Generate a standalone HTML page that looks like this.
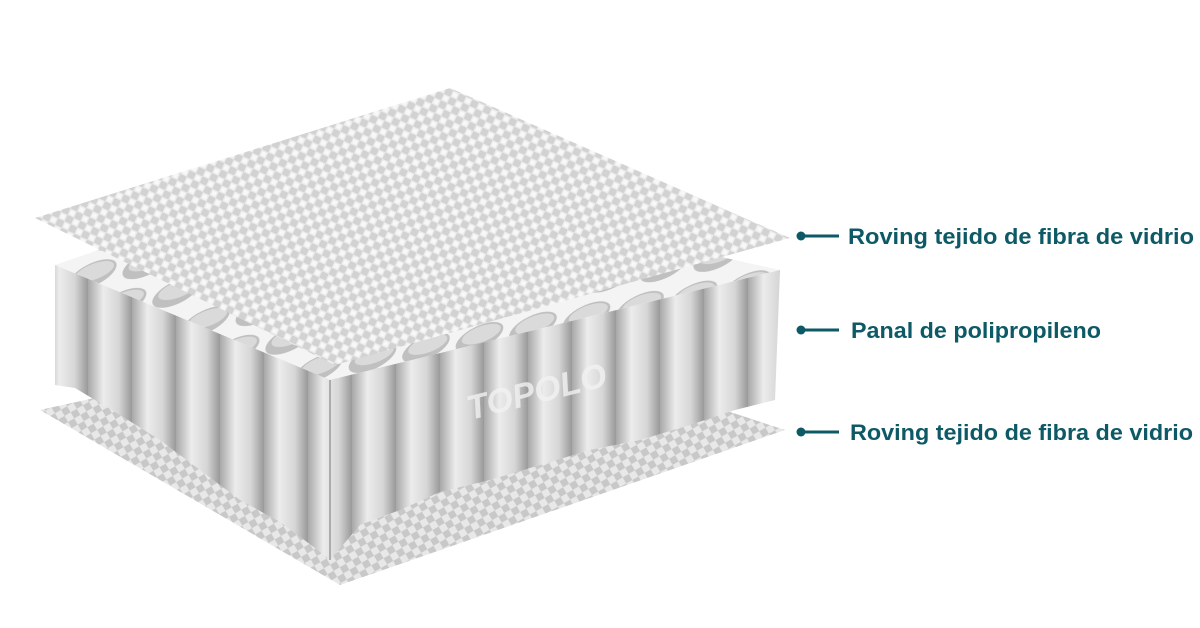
<!DOCTYPE html>
<html><head><meta charset="utf-8"><style>
html,body{margin:0;padding:0;background:#fff;}
svg{display:block;}
text{font-family:"Liberation Sans",Arial,sans-serif;}
</style></head><body>
<svg width="1200" height="628" viewBox="0 0 1200 628" xmlns="http://www.w3.org/2000/svg">
<defs>
  <pattern id="weave" width="10" height="10" patternUnits="userSpaceOnUse" patternTransform="rotate(-20)">
    <rect width="10" height="10" fill="#d2d2d2"/>
    <path d="M5 0 L10 5 L5 10 L0 5Z" fill="#ececec"/>
    <path d="M5 2 L8 5 L5 8 L2 5Z" fill="#f8f8f8"/>
  </pattern>
  <pattern id="weave2" width="10" height="10" patternUnits="userSpaceOnUse" patternTransform="rotate(15)">
    <rect width="10" height="10" fill="#c8c8c8"/>
    <path d="M5 0 L10 5 L5 10 L0 5Z" fill="#e8e8e8"/>
  </pattern>
  <linearGradient id="tube" x1="0" x2="1" y1="0" y2="0">
    <stop offset="0" stop-color="#a8a8a8"/>
    <stop offset="0.35" stop-color="#ececec"/>
    <stop offset="0.7" stop-color="#d6d6d6"/>
    <stop offset="1" stop-color="#999"/>
  </linearGradient>
  <pattern id="tubes" width="44" height="600" patternUnits="userSpaceOnUse">
    <rect width="44" height="600" fill="url(#tube)"/>
  </pattern>
  <pattern id="cells" width="46" height="40" patternUnits="userSpaceOnUse" patternTransform="skewX(-40) rotate(-13)">
    <rect width="46" height="40" fill="#f4f4f4"/>
    <ellipse cx="23" cy="20" rx="19" ry="15" fill="#c0c0c0"/>
    <ellipse cx="23" cy="17" rx="16" ry="10" fill="#dadada"/>
  </pattern>
</defs>

<polygon points="40,410 450,320 785,430 340,585" fill="url(#weave2)"/>

<polygon points="55,265 330,170 780,270 330,380" fill="url(#cells)"/>
<polygon points="55,265 330,380 330,560 315,548 280,522 240,500 200,470 160,440 120,415 75,388 55,385" fill="url(#tubes)"/>
<polygon points="330,380 780,270 775,400 735,410 690,425 640,440 590,450 540,465 490,480 440,492 400,510 360,525 330,560" fill="url(#tubes)"/>
<line x1="330" y1="380" x2="330" y2="560" stroke="#999" stroke-width="1.5"/>
<text x="470" y="420" font-size="34" font-weight="bold" font-style="italic" fill="#f2f2f2" opacity="0.8" transform="rotate(-14 470 420)">TOPOLO</text>

<polygon points="35,218 450,88 790,238 335,365" fill="url(#weave)"/>

<g fill="#0d5a66">
  <circle cx="801" cy="236" r="4.5"/><rect x="801" y="234.5" width="38" height="3"/>
  <circle cx="801" cy="330" r="4.5"/><rect x="801" y="328.5" width="38" height="3"/>
  <circle cx="801" cy="432" r="4.5"/><rect x="801" y="430.5" width="38" height="3"/>
  <text x="848" y="244" font-size="22" font-weight="bold" textLength="346" lengthAdjust="spacingAndGlyphs">Roving tejido de fibra de vidrio</text>
  <text x="851" y="338" font-size="22" font-weight="bold" textLength="250" lengthAdjust="spacingAndGlyphs">Panal de polipropileno</text>
  <text x="850" y="440" font-size="22" font-weight="bold" textLength="343" lengthAdjust="spacingAndGlyphs">Roving tejido de fibra de vidrio</text>
</g>
</svg>
</body></html>
